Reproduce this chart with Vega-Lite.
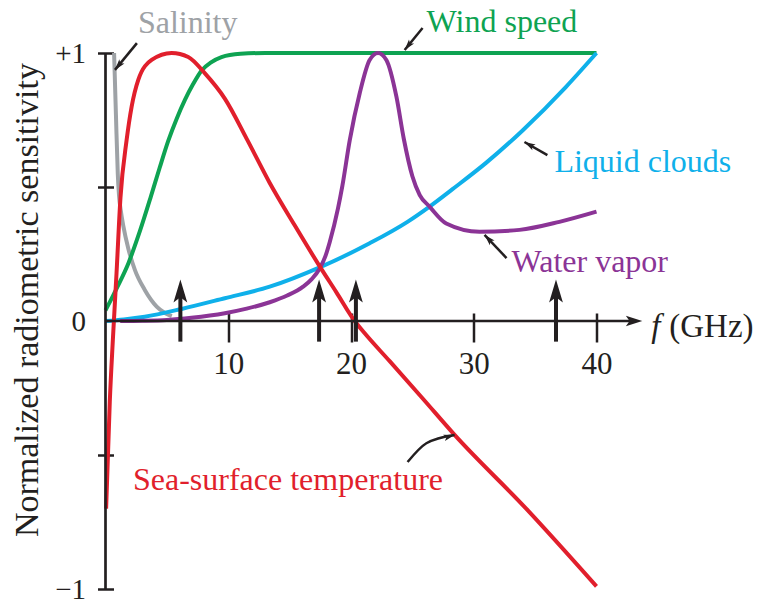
{
  "$schema": "https://vega.github.io/schema/vega-lite/v6.json",
  "width": 491,
  "height": 536,
  "autosize": {"type": "none"},
  "padding": {"left": 105.5, "top": 53, "right": 164.5, "bottom": 12},
  "background": "white",
  "config": {
    "view": {"stroke": null},
    "font": "Liberation Serif",
    "axis": {"labelFont": "Liberation Serif", "labelColor": "#231f20", "tickColor": "#231f20"}
  },
  "datasets": {
    "curves": [
      {"series": "Salinity", "f": 0.7, "s": 1.0},
      {"series": "Salinity", "f": 0.85, "s": 0.77},
      {"series": "Salinity", "f": 1.0, "s": 0.55},
      {"series": "Salinity", "f": 1.1, "s": 0.47},
      {"series": "Salinity", "f": 1.25, "s": 0.41},
      {"series": "Salinity", "f": 1.45, "s": 0.355},
      {"series": "Salinity", "f": 1.86, "s": 0.27},
      {"series": "Salinity", "f": 2.4, "s": 0.19},
      {"series": "Salinity", "f": 3.2, "s": 0.116},
      {"series": "Salinity", "f": 4.17, "s": 0.054},
      {"series": "Salinity", "f": 4.84, "s": 0.03},
      {"series": "Salinity", "f": 5.4, "s": 0.018},

      {"series": "Wind speed", "f": 0.0, "s": 0.04},
      {"series": "Wind speed", "f": 0.37, "s": 0.072},
      {"series": "Wind speed", "f": 1.0, "s": 0.13},
      {"series": "Wind speed", "f": 1.86, "s": 0.215},
      {"series": "Wind speed", "f": 2.8, "s": 0.335},
      {"series": "Wind speed", "f": 3.7, "s": 0.465},
      {"series": "Wind speed", "f": 4.4, "s": 0.57},
      {"series": "Wind speed", "f": 5.11, "s": 0.672},
      {"series": "Wind speed", "f": 5.8, "s": 0.755},
      {"series": "Wind speed", "f": 6.47, "s": 0.825},
      {"series": "Wind speed", "f": 7.15, "s": 0.885},
      {"series": "Wind speed", "f": 7.83, "s": 0.935},
      {"series": "Wind speed", "f": 8.6, "s": 0.965},
      {"series": "Wind speed", "f": 9.45, "s": 0.985},
      {"series": "Wind speed", "f": 11.0, "s": 0.997},
      {"series": "Wind speed", "f": 13.0, "s": 1.0},
      {"series": "Wind speed", "f": 20.0, "s": 1.0},
      {"series": "Wind speed", "f": 30.0, "s": 1.0},
      {"series": "Wind speed", "f": 40.0, "s": 1.0},

      {"series": "Liquid clouds", "f": 0.0, "s": 0.0},
      {"series": "Liquid clouds", "f": 1.5, "s": 0.006},
      {"series": "Liquid clouds", "f": 3.2, "s": 0.016},
      {"series": "Liquid clouds", "f": 6.2, "s": 0.045},
      {"series": "Liquid clouds", "f": 9.72, "s": 0.085},
      {"series": "Liquid clouds", "f": 13.38, "s": 0.128},
      {"series": "Liquid clouds", "f": 17.45, "s": 0.2},
      {"series": "Liquid clouds", "f": 21.52, "s": 0.29},
      {"series": "Liquid clouds", "f": 24.6, "s": 0.37},
      {"series": "Liquid clouds", "f": 26.4, "s": 0.427},
      {"series": "Liquid clouds", "f": 28.27, "s": 0.492},
      {"series": "Liquid clouds", "f": 31.0, "s": 0.59},
      {"series": "Liquid clouds", "f": 34.0, "s": 0.712},
      {"series": "Liquid clouds", "f": 37.5, "s": 0.873},
      {"series": "Liquid clouds", "f": 40.0, "s": 1.0},

      {"series": "Water vapor", "f": 1.2, "s": 0.0},
      {"series": "Water vapor", "f": 3.0, "s": 0.001},
      {"series": "Water vapor", "f": 5.0, "s": 0.004},
      {"series": "Water vapor", "f": 7.0, "s": 0.012},
      {"series": "Water vapor", "f": 9.72, "s": 0.029},
      {"series": "Water vapor", "f": 11.5, "s": 0.046},
      {"series": "Water vapor", "f": 13.38, "s": 0.07},
      {"series": "Water vapor", "f": 14.8, "s": 0.095},
      {"series": "Water vapor", "f": 16.1, "s": 0.128},
      {"series": "Water vapor", "f": 16.8, "s": 0.156},
      {"series": "Water vapor", "f": 17.45, "s": 0.196},
      {"series": "Water vapor", "f": 17.9, "s": 0.24},
      {"series": "Water vapor", "f": 18.27, "s": 0.295},
      {"series": "Water vapor", "f": 18.94, "s": 0.42},
      {"series": "Water vapor", "f": 19.3, "s": 0.505},
      {"series": "Water vapor", "f": 19.9, "s": 0.675},
      {"series": "Water vapor", "f": 20.71, "s": 0.85},
      {"series": "Water vapor", "f": 21.52, "s": 0.974},
      {"series": "Water vapor", "f": 22.2, "s": 1.0},
      {"series": "Water vapor", "f": 22.88, "s": 0.974},
      {"series": "Water vapor", "f": 23.7, "s": 0.837},
      {"series": "Water vapor", "f": 24.3, "s": 0.68},
      {"series": "Water vapor", "f": 25.0, "s": 0.54},
      {"series": "Water vapor", "f": 25.6, "s": 0.47},
      {"series": "Water vapor", "f": 26.4, "s": 0.427},
      {"series": "Water vapor", "f": 27.76, "s": 0.364},
      {"series": "Water vapor", "f": 30.47, "s": 0.333},
      {"series": "Water vapor", "f": 33.73, "s": 0.34},
      {"series": "Water vapor", "f": 36.98, "s": 0.37},
      {"series": "Water vapor", "f": 40.0, "s": 0.408},

      {"series": "Sea-surface temperature", "f": 0.05, "s": -0.7},
      {"series": "Sea-surface temperature", "f": 0.35, "s": -0.3},
      {"series": "Sea-surface temperature", "f": 0.6, "s": -0.07},
      {"series": "Sea-surface temperature", "f": 0.9, "s": 0.18},
      {"series": "Sea-surface temperature", "f": 1.22, "s": 0.46},
      {"series": "Sea-surface temperature", "f": 1.72, "s": 0.675},
      {"series": "Sea-surface temperature", "f": 2.13, "s": 0.8},
      {"series": "Sea-surface temperature", "f": 2.67, "s": 0.9},
      {"series": "Sea-surface temperature", "f": 3.76, "s": 0.974},
      {"series": "Sea-surface temperature", "f": 5.39, "s": 1.0},
      {"series": "Sea-surface temperature", "f": 6.74, "s": 0.985},
      {"series": "Sea-surface temperature", "f": 8.1, "s": 0.924},
      {"series": "Sea-surface temperature", "f": 9.72, "s": 0.83},
      {"series": "Sea-surface temperature", "f": 11.56, "s": 0.675},
      {"series": "Sea-surface temperature", "f": 13.38, "s": 0.515},
      {"series": "Sea-surface temperature", "f": 15.4, "s": 0.358},
      {"series": "Sea-surface temperature", "f": 17.45, "s": 0.204},
      {"series": "Sea-surface temperature", "f": 18.8, "s": 0.108},
      {"series": "Sea-surface temperature", "f": 20.3, "s": 0.0},
      {"series": "Sea-surface temperature", "f": 21.1, "s": -0.045},
      {"series": "Sea-surface temperature", "f": 23.15, "s": -0.15},
      {"series": "Sea-surface temperature", "f": 25.86, "s": -0.29},
      {"series": "Sea-surface temperature", "f": 28.44, "s": -0.425},
      {"series": "Sea-surface temperature", "f": 34.27, "s": -0.7},
      {"series": "Sea-surface temperature", "f": 40.0, "s": -0.99}
    ],
    "channels": [
      {"f": 6.1},
      {"f": 17.4},
      {"f": 20.4},
      {"f": 36.7}
    ],
    "notes": [
      {"series": "Salinity", "f": 2.64, "s": 1.075},
      {"series": "Wind speed", "f": 26.16, "s": 1.078},
      {"series": "Liquid clouds", "f": 36.57, "s": 0.556},
      {"series": "Water vapor", "f": 33.08, "s": 0.183},
      {"series": "Sea-surface temperature", "f": 2.24, "s": -0.63}
    ],
    "pointers": [
      {"series": "Salinity", "f": 2.56, "s": 1.037},
      {"series": "Salinity", "f": 0.77, "s": 0.937},
      {"series": "Wind speed", "f": 25.83, "s": 1.093},
      {"series": "Wind speed", "f": 24.37, "s": 1.011},
      {"series": "Liquid clouds", "f": 36.0, "s": 0.619},
      {"series": "Liquid clouds", "f": 34.13, "s": 0.668},
      {"series": "Water vapor", "f": 32.67, "s": 0.235},
      {"series": "Water vapor", "f": 30.88, "s": 0.321},
      {"series": "Sea-surface temperature", "f": 24.61, "s": -0.526},
      {"series": "Sea-surface temperature", "f": 26.14, "s": -0.456},
      {"series": "Sea-surface temperature", "f": 28.44, "s": -0.425}
    ],
    "tips": [
      {"series": "Salinity", "f": 0.77, "s": 0.937, "heading": 219},
      {"series": "Wind speed", "f": 24.37, "s": 1.011, "heading": 219},
      {"series": "Liquid clouds", "f": 34.13, "s": 0.668, "heading": 299.5},
      {"series": "Water vapor", "f": 30.88, "s": 0.321, "heading": 316},
      {"series": "Sea-surface temperature", "f": 28.44, "s": -0.425, "heading": 74}
    ]
  },
  "layer": [
    {
      "data": {"name": "curves"},
      "mark": {"type": "line", "strokeWidth": 4, "interpolate": "monotone"},
      "encoding": {
        "x": {
          "field": "f",
          "type": "quantitative",
          "scale": {"domain": [0, 40], "nice": false, "zero": false},
          "axis": {
            "values": [10, 20, 30, 40],
            "offset": -276,
            "tickSize": 29,
            "tickWidth": 2.5,
            "domain": false,
            "grid": false,
            "labelFontSize": 31,
            "labelPadding": 7,
            "labelFlush": false,
            "labelOverlap": false,
            "title": null
          }
        },
        "y": {
          "field": "s",
          "type": "quantitative",
          "scale": {"domain": [-1, 1], "nice": false, "zero": false},
          "axis": {
            "values": [-1, -0.5, 0, 0.5, 1],
            "offset": -8,
            "tickSize": 16,
            "tickWidth": 2.5,
            "tickOpacity": {"condition": {"test": "datum.value === 0", "value": 0}, "value": 1},
            "domain": false,
            "grid": false,
            "labelExpr": "datum.value === 1 ? '+1' : datum.value === -1 ? '\u22121' : datum.value === 0 ? '0' : ''",
            "labelFontSize": 29,
            "labelPadding": 12,
            "labelFlush": false,
            "labelOverlap": false,
            "title": null
          }
        },
        "color": {
          "field": "series",
          "type": "nominal",
          "scale": {
            "domain": ["Salinity", "Wind speed", "Liquid clouds", "Water vapor", "Sea-surface temperature"],
            "range": ["#9ea2a6", "#0ea352", "#0fb0ea", "#8b3496", "#e11f2c"]
          },
          "legend": null
        }
      }
    },
    {
      "data": {"values": [{}]},
      "mark": {"type": "rule", "color": "#231f20", "strokeWidth": 2.7},
      "encoding": {"x": {"datum": 0}, "y": {"datum": -1}, "y2": {"datum": 1}}
    },
    {
      "data": {"values": [{}]},
      "mark": {"type": "rule", "color": "#231f20", "strokeWidth": 2.7},
      "encoding": {"x": {"datum": 0}, "x2": {"datum": 43.1}, "y": {"datum": 0}}
    },
    {
      "data": {"values": [{}]},
      "mark": {
        "type": "point",
        "shape": "M0,0L0.65,2L0,1.55L-0.65,2Z",
        "filled": true,
        "opacity": 1,
        "color": "#231f20",
        "size": 270,
        "angle": 90
      },
      "encoding": {"x": {"datum": 43.73}, "y": {"datum": 0}}
    },
    {
      "data": {"name": "channels"},
      "mark": {"type": "rule", "color": "#231f20", "strokeWidth": 4},
      "encoding": {
        "x": {"field": "f", "type": "quantitative"},
        "y": {"datum": -0.077},
        "y2": {"datum": 0.12}
      }
    },
    {
      "data": {"name": "channels"},
      "mark": {
        "type": "point",
        "shape": "M0,0L0.6,2L0,1.55L-0.6,2Z",
        "filled": true,
        "opacity": 1,
        "color": "#231f20",
        "size": 529
      },
      "encoding": {
        "x": {"field": "f", "type": "quantitative"},
        "y": {"datum": 0.155}
      }
    },
    {
      "data": {"name": "pointers"},
      "mark": {"type": "line", "color": "#231f20", "strokeWidth": 2.5, "interpolate": "monotone"},
      "encoding": {
        "x": {"field": "f", "type": "quantitative"},
        "y": {"field": "s", "type": "quantitative"},
        "detail": {"field": "series", "type": "nominal"}
      }
    },
    {
      "data": {"name": "tips"},
      "mark": {
        "type": "point",
        "shape": "M0,0L0.6,2L0,1.55L-0.6,2Z",
        "filled": true,
        "opacity": 1,
        "color": "#231f20",
        "size": 121
      },
      "encoding": {
        "x": {"field": "f", "type": "quantitative"},
        "y": {"field": "s", "type": "quantitative"},
        "angle": {"field": "heading", "type": "quantitative", "scale": null}
      }
    },
    {
      "data": {"name": "notes"},
      "mark": {"type": "text", "align": "left", "baseline": "alphabetic", "fontSize": 32, "font": "Liberation Serif"},
      "encoding": {
        "x": {"field": "f", "type": "quantitative"},
        "y": {"field": "s", "type": "quantitative"},
        "text": {"field": "series"},
        "color": {"field": "series", "type": "nominal", "legend": null}
      }
    },
    {
      "data": {"values": [{}]},
      "mark": {"type": "text", "align": "left", "baseline": "alphabetic", "fontSize": 33, "fontStyle": "italic", "font": "Liberation Serif", "color": "#231f20"},
      "encoding": {"x": {"datum": 44.47}, "y": {"datum": -0.06}, "text": {"value": "f"}}
    },
    {
      "data": {"values": [{}]},
      "mark": {"type": "text", "align": "left", "baseline": "alphabetic", "fontSize": 33, "font": "Liberation Serif", "color": "#231f20"},
      "encoding": {"x": {"datum": 45.93}, "y": {"datum": -0.06}, "text": {"value": "(GHz)"}}
    },
    {
      "data": {"values": [{}]},
      "mark": {"type": "text", "align": "center", "baseline": "alphabetic", "fontSize": 34, "angle": 270, "font": "Liberation Serif", "color": "#231f20"},
      "encoding": {"x": {"datum": -5.49}, "y": {"datum": 0.078}, "text": {"value": "Normalized radiometric sensitivity"}}
    }
  ]
}
